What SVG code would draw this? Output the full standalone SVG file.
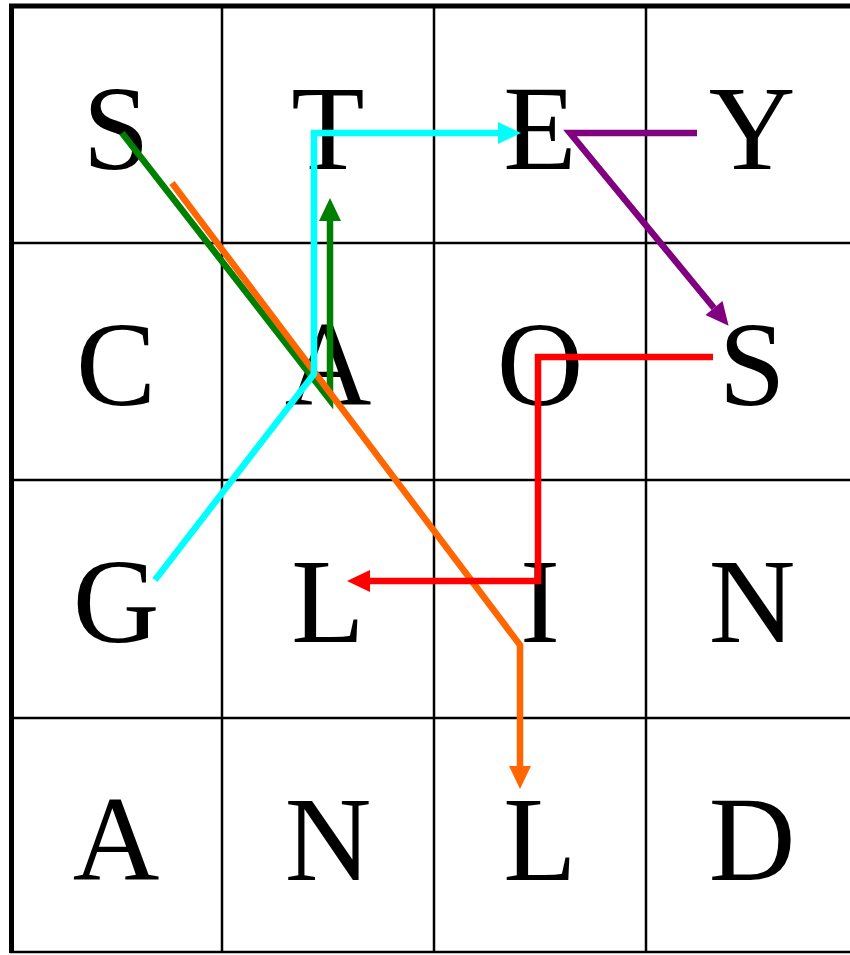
<svg xmlns="http://www.w3.org/2000/svg" width="850" height="955" viewBox="0 0 850 955">
<style>
.grid{stroke:#000;stroke-width:2.5;fill:none}
.border{stroke:#000;stroke-width:5;fill:none}
.letter{font-family:"Liberation Serif","Times New Roman",serif;font-size:120px;text-anchor:middle;fill:#000}
.path{fill:none;stroke-width:6.5;stroke-linejoin:miter}
</style>
<defs>
<marker id="ah-green" markerUnits="userSpaceOnUse" markerWidth="24" markerHeight="24" refX="0" refY="11" orient="auto" overflow="visible"><path d="M0,0 L23,11 L0,22 z" fill="#008000"/></marker>
<marker id="ah-orange" markerUnits="userSpaceOnUse" markerWidth="24" markerHeight="24" refX="0" refY="11" orient="auto" overflow="visible"><path d="M0,0 L23,11 L0,22 z" fill="#FF6600"/></marker>
<marker id="ah-red" markerUnits="userSpaceOnUse" markerWidth="24" markerHeight="24" refX="0" refY="11" orient="auto" overflow="visible"><path d="M0,0 L23,11 L0,22 z" fill="#FF0000"/></marker>
<marker id="ah-cyan" markerUnits="userSpaceOnUse" markerWidth="24" markerHeight="24" refX="0" refY="11" orient="auto" overflow="visible"><path d="M0,0 L23,11 L0,22 z" fill="#00FFFF"/></marker>
<marker id="ah-purple" markerUnits="userSpaceOnUse" markerWidth="24" markerHeight="24" refX="0" refY="11" orient="auto" overflow="visible"><path d="M0,0 L23,11 L0,22 z" fill="#800080"/></marker>
</defs>
<rect width="850" height="955" fill="#fff"/>
<g id="grid">
<line class="grid" x1="222" y1="6" x2="222" y2="952"/>
<line class="grid" x1="434" y1="6" x2="434" y2="952"/>
<line class="grid" x1="646" y1="6" x2="646" y2="952"/>
<line class="grid" x1="10" y1="243" x2="850" y2="243"/>
<line class="grid" x1="10" y1="480" x2="850" y2="480"/>
<line class="grid" x1="10" y1="718" x2="850" y2="718"/>
<line class="grid" x1="10" y1="952" x2="850" y2="952"/>
<line class="border" x1="9" y1="6" x2="850" y2="6"/>
<line class="border" x1="11.5" y1="4" x2="11.5" y2="953"/>
</g>
<g id="cell-r1c1"><text class="letter" x="116" y="169">S</text></g>
<g id="cell-r1c2"><text class="letter" x="328" y="169">T</text></g>
<g id="cell-r1c3"><text class="letter" x="540" y="169">E</text></g>
<g id="cell-r1c4"><text class="letter" x="752" y="169">Y</text></g>
<g id="cell-r2c1"><text class="letter" x="116" y="405">C</text></g>
<g id="cell-r2c2"><text class="letter" x="328" y="405">A</text></g>
<g id="cell-r2c3"><text class="letter" x="540" y="405">O</text></g>
<g id="cell-r2c4"><text class="letter" x="752" y="405">S</text></g>
<g id="cell-r3c1"><text class="letter" x="116" y="642">G</text></g>
<g id="cell-r3c2"><text class="letter" x="328" y="642">L</text></g>
<g id="cell-r3c3"><text class="letter" x="540" y="642">I</text></g>
<g id="cell-r3c4"><text class="letter" x="752" y="642">N</text></g>
<g id="cell-r4c1"><text class="letter" x="116" y="880">A</text></g>
<g id="cell-r4c2"><text class="letter" x="328" y="880">N</text></g>
<g id="cell-r4c3"><text class="letter" x="540" y="880">L</text></g>
<g id="cell-r4c4"><text class="letter" x="752" y="880">D</text></g>
<g id="connectors">
<polyline class="path" stroke="#008000" points="122,133 330,400 330,221" marker-end="url(#ah-green)"/>
<polyline class="path" stroke="#FF6600" points="172,183 520,645 520,766" marker-end="url(#ah-orange)"/>
<polyline class="path" stroke="#FF0000" points="713,357 538,357 538,581 370,581" marker-end="url(#ah-red)"/>
<polyline class="path" stroke="#00FFFF" points="155,580 314,374 314,133 498,133" marker-end="url(#ah-cyan)"/>
<polyline class="path" stroke="#800080" points="697,133 570,133 714,308" marker-end="url(#ah-purple)"/>
</g>
</svg>
